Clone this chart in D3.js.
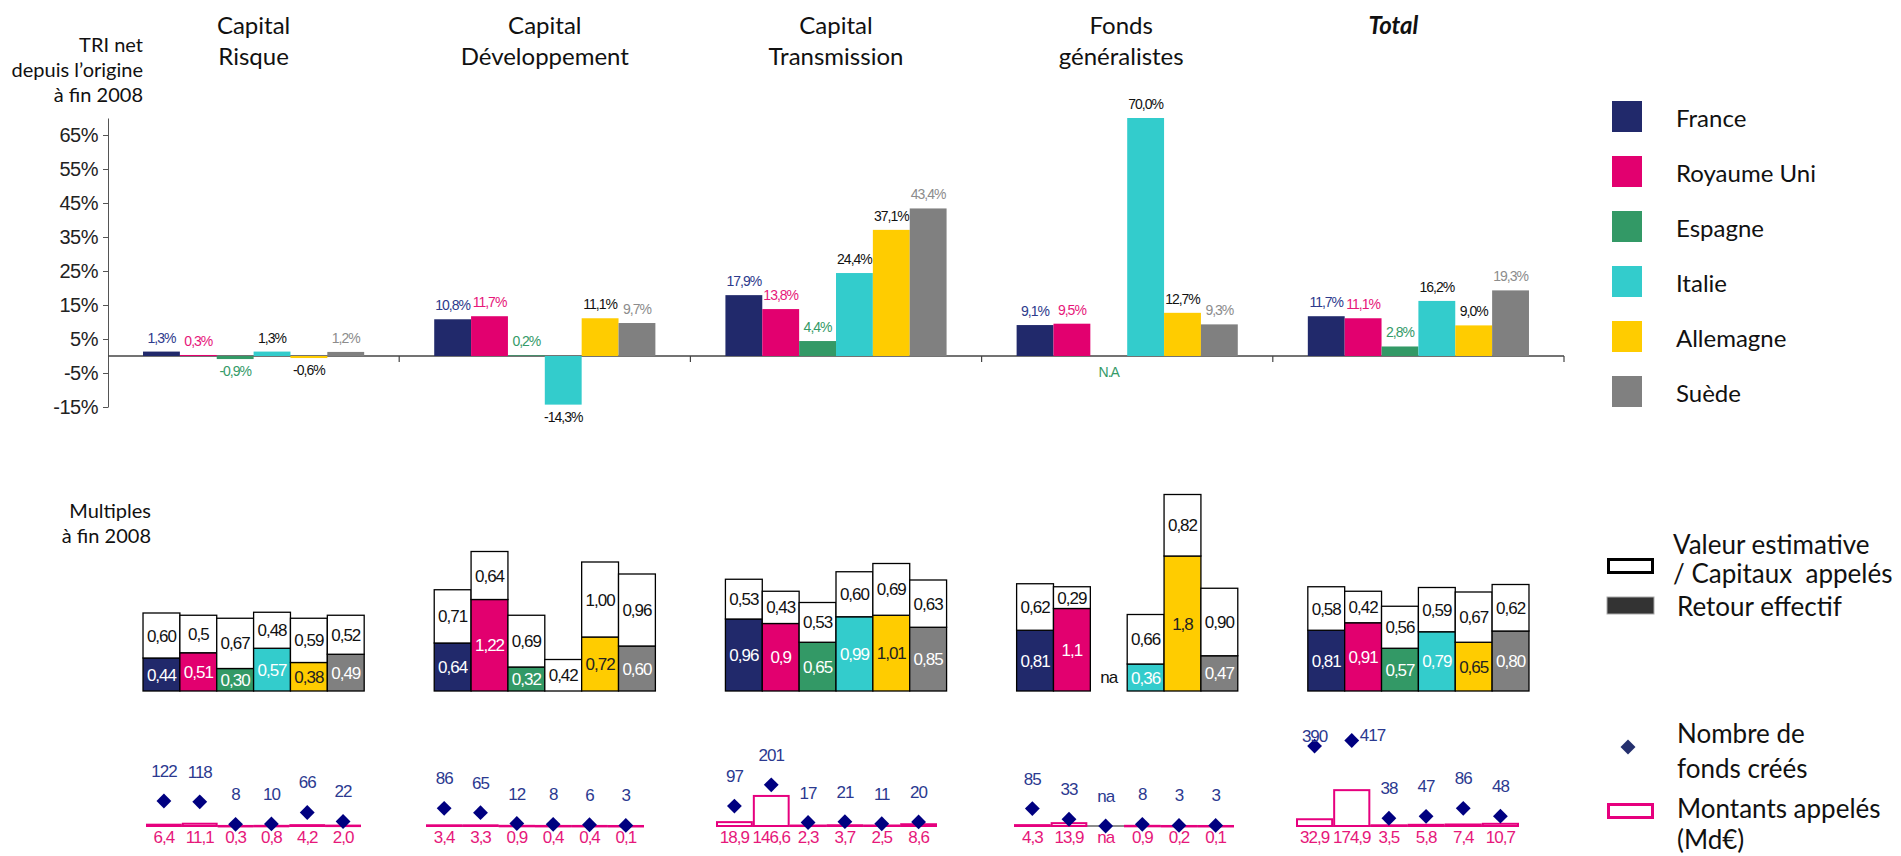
<!DOCTYPE html>
<html><head><meta charset="utf-8">
<script src="https://cdn.jsdelivr.net/npm/d3@7"></script>
<style>
body{margin:0;background:#fff;}
svg{display:block;}
.num{font-family:"Liberation Sans",Arial,sans-serif;}
.lbl{font-family:Lato,"Open Sans",sans-serif;}
</style></head><body>
<svg id="chart" width="1901" height="856"></svg>
<script>
// ---------------- DATA ----------------
const countries = ["France","Royaume Uni","Espagne","Italie","Allemagne","Suède"];
const groups = ["Capital Risque","Capital Développement","Capital Transmission","Fonds généralistes","Total"];
const groupTitles = [["Capital","Risque"],["Capital","Développement"],["Capital","Transmission"],["Fonds","généralistes"],["Total"]];
const yTicks = [-15,-5,5,15,25,35,45,55,65];

// TRI net depuis l'origine à fin 2008 (%)
const triCapitalRisque   = [1.3, 0.3, -0.9, 1.3, -0.6, 1.2];
const triCapitalDev      = [10.8, 11.7, 0.2, -14.3, 11.1, 9.7];
const triCapitalTrans    = [17.9, 13.8, 4.4, 24.4, 37.1, 43.4];
const triFondsGen        = [9.1, 9.5, null, 70.0, 12.7, 9.3];
const triTotal           = [11.7, 11.1, 2.8, 16.2, 9.0, 19.3];

// Multiples : Retour effectif
const retourCR    = ["0,44","0,51","0,30","0,57","0,38","0,49"];
const retourCD    = ["0,64","1,22","0,32",null,"0,72","0,60"];
const retourCT    = ["0,96","0,9","0,65","0,99","1,01","0,85"];
const retourFG    = ["0,81","1,1","na","0,36","1,8","0,47"];
const retourTotal = ["0,81","0,91","0,57","0,79","0,65","0,80"];

// Multiples : Valeur estimative / Capitaux appelés
const valeurCR    = ["0,60","0,5","0,67","0,48","0,59","0,52"];
const valeurCD    = ["0,71","0,64","0,69","0,42","1,00","0,96"];
const valeurCT    = ["0,53","0,43","0,53","0,60","0,69","0,63"];
const valeurFG    = ["0,62","0,29","na","0,66","0,82","0,90"];
const valeurTotal = ["0,58","0,42","0,56","0,59","0,67","0,62"];

// Nombre de fonds créés
const fondsCR    = [122,118,8,10,66,22];
const fondsCD    = [86,65,12,8,6,3];
const fondsCT    = [97,201,17,21,11,20];
const fondsFG    = [85,33,"na",8,3,3];
const fondsTotal = [390,417,38,47,86,48];

// Montants appelés (Md€)
const montantsCR    = ["6,4","11,1","0,3","0,8","4,2","2,0"];
const montantsCD    = ["3,4","3,3","0,9","0,4","0,4","0,1"];
const montantsCT    = ["18,9","146,6","2,3","3,7","2,5","8,6"];
const montantsFG    = ["4,3","13,9","na","0,9","0,2","0,1"];
const montantsTotal = ["32,9","174,9","3,5","5,8","7,4","10,7"];

const triData = [triCapitalRisque, triCapitalDev, triCapitalTrans, triFondsGen, triTotal];
const retourData = [retourCR, retourCD, retourCT, retourFG, retourTotal];
const valeurData = [valeurCR, valeurCD, valeurCT, valeurFG, valeurTotal];
const fondsData = [fondsCR, fondsCD, fondsCT, fondsFG, fondsTotal];
const montantsData = [montantsCR, montantsCD, montantsCT, montantsFG, montantsTotal];

// ---------------- STYLE / LAYOUT ----------------
const barColors  = ["#21296b","#e2006f","#339966","#33cccc","#ffcc00","#808080"];
const textColors = ["#2d3a8c","#e6177a","#349a68","#111111","#111111","#8c8c8c"];
const inBoxText  = ["#ffffff","#ffffff","#ffffff","#ffffff","#222222","#ffffff"];
const navy = "#000080", navyText = "#2b3990", pink = "#e6007e", pinkText = "#e6177a";

const parseFr = s => (s === null || s === "na") ? null : +String(s).replace(",", ".");
const fmtPct = v => d3.format(".1f")(v).replace(".", ",").replace("\u2212", "-") + "%";

const svg = d3.select("#chart");

// group layout (shared by TRI and multiples panels)
const gx = d3.scaleBand().domain(groups).range([108, 1564]).paddingInner(0).paddingOuter(0);
const inner = groups.map(g => d3.scaleBand().domain(countries)
  .range([gx(g), gx(g) + gx.bandwidth()]).paddingInner(0).paddingOuter(0.95));

// lower panel spans (slightly offset in the original layout)
const bottomRanges = [[146,361],[426,644],[716,937],[1014,1234],[1296,1519]];
const innerBottom = bottomRanges.map(r => d3.scaleBand().domain(countries).range(r));

// ---------------- TITLES ----------------
const titleShift = [0, 0, 0, -6, -25];
groups.forEach((g, i) => {
  const cx = gx(g) + gx.bandwidth() / 2 + titleShift[i];
  const t = svg.append("text").attr("class","lbl").attr("text-anchor","middle")
    .attr("font-size", 24).attr("fill","#111");
  groupTitles[i].forEach((l, k) => t.append("tspan").attr("x", cx).attr("y", 34 + k*31).text(l));
  if (i === groups.length - 1) t.attr("font-weight","bold").attr("font-style","italic");
});

const yTitle = svg.append("text").attr("class","lbl").attr("text-anchor","end").attr("font-size",20).attr("fill","#111");
["TRI net","depuis l’origine","à fin 2008"].forEach((l,k)=> yTitle.append("tspan").attr("x",143).attr("y",52+k*25).text(l));

const mTitle = svg.append("text").attr("class","lbl").attr("text-anchor","end").attr("font-size",20).attr("fill","#111");
["Multiples","à fin 2008"].forEach((l,k)=> mTitle.append("tspan").attr("x",151).attr("y",518+k*25).text(l));

// ---------------- TRI PANEL ----------------
const y = d3.scaleLinear().domain([-15, 70]).range([407, 118]);
const yAxis = svg.append("g").attr("transform","translate(108,0)")
  .call(d3.axisLeft(y).tickValues(yTicks).tickSize(5).tickSizeOuter(0).tickFormat(d => d + "%"));
yAxis.select(".domain").attr("stroke","#555");
yAxis.selectAll(".tick line").attr("stroke","#555");
yAxis.selectAll(".tick text").attr("class","num").attr("font-size",20).attr("fill","#222")
  .attr("letter-spacing","-0.5").attr("x",-10);

svg.append("line").attr("x1",108).attr("x2",gx.range()[1]).attr("y1",y(0)).attr("y2",y(0))
  .attr("stroke","#444").attr("stroke-width",1.5);
groups.forEach(g => {
  const xe = gx(g) + gx.bandwidth();
  svg.append("line").attr("x1",xe).attr("x2",xe).attr("y1",y(0)).attr("y2",y(0)+6)
    .attr("stroke","#444").attr("stroke-width",1.2);
});

triData.forEach((vals, i) => {
  const xb = inner[i];
  const gg = svg.append("g");
  vals.forEach((v, j) => {
    const x = xb(countries[j]), w = xb.bandwidth(), cx = x + w/2;
    if (v === null) {
      gg.append("text").attr("class","num").attr("x",cx).attr("y",y(0)+21).attr("text-anchor","middle")
        .attr("font-size",14).attr("letter-spacing","-1").attr("fill",textColors[j]).text("N.A");
      return;
    }
    gg.append("rect").attr("x",x).attr("width",w)
      .attr("y", y(Math.max(0,v))).attr("height", Math.abs(y(v)-y(0)))
      .attr("fill", barColors[j]);
    gg.append("text").attr("class","num").attr("x",cx)
      .attr("y", v >= 0 ? y(v) - 9 : y(v) + 17)
      .attr("text-anchor","middle").attr("font-size",14).attr("letter-spacing","-1")
      .attr("fill", textColors[j]).text(fmtPct(v));
  });
});

// ---------------- MULTIPLES PANEL ----------------
const ym = d3.scaleLinear().domain([0, 1]).range([691, 616]);
groups.forEach((g, i) => {
  const xb = inner[i];
  const gg = svg.append("g");
  countries.forEach((c, j) => {
    const x = xb(c), w = xb.bandwidth(), cx = x + w/2;
    const rs = retourData[i][j], vs = valeurData[i][j];
    if (rs === "na" || vs === "na") {
      gg.append("text").attr("class","num").attr("x",cx).attr("y",ym(0)-8).attr("text-anchor","middle")
        .attr("font-size",17).attr("letter-spacing","-1").attr("fill","#111").text("na");
      return;
    }
    const r = parseFr(rs) || 0, v = parseFr(vs);
    if (rs !== null) {
      gg.append("rect").attr("x",x).attr("width",w).attr("y",ym(r)).attr("height",ym(0)-ym(r))
        .attr("fill",barColors[j]).attr("stroke","#000").attr("stroke-width",1.3);
      gg.append("text").attr("class","num").attr("x",cx).attr("y",(ym(0)+ym(r))/2).attr("dy","0.36em")
        .attr("text-anchor","middle").attr("font-size",17).attr("letter-spacing","-1")
        .attr("fill",inBoxText[j]).text(rs);
    }
    gg.append("rect").attr("x",x).attr("width",w).attr("y",ym(r+v)).attr("height",ym(r)-ym(r+v))
      .attr("fill","#fff").attr("stroke","#000").attr("stroke-width",1.3);
    gg.append("text").attr("class","num").attr("x",cx).attr("y",(ym(r)+ym(r+v))/2).attr("dy","0.36em")
      .attr("text-anchor","middle").attr("font-size",17).attr("letter-spacing","-1")
      .attr("fill","#111").text(vs);
  });
});

// ---------------- FONDS / MONTANTS PANEL ----------------
const yb = d3.scaleLinear().domain([0, 100]).range([826, 805.5]);
const diamond = d3.symbol().type(d3.symbolSquare).size(110);
const labelCeiling = 742; // labels may not rise above this baseline (multiples panel above)
groups.forEach((g, i) => {
  const xb = innerBottom[i];
  const [a, b] = bottomRanges[i];
  const gg = svg.append("g");
  gg.append("line").attr("x1",a).attr("x2",b).attr("y1",yb(0)).attr("y2",yb(0))
    .attr("stroke","#8c8c8c").attr("stroke-width",2);
  countries.forEach((c, j) => {
    const x = xb(c), w = xb.bandwidth(), cx = x + w/2;
    const ms = montantsData[i][j], m = parseFr(ms);
    if (m !== null) {
      gg.append("rect").attr("x",x+1).attr("width",w-2).attr("y",yb(m)).attr("height",Math.max(0.5,yb(0)-yb(m)))
        .attr("fill","#fff").attr("stroke",pink).attr("stroke-width",2);
    }
    gg.append("text").attr("class","num").attr("x",cx).attr("y",yb(0)+17).attr("text-anchor","middle")
      .attr("font-size",17).attr("letter-spacing","-1").attr("fill",pinkText).text(ms);
  });
  countries.forEach((c, j) => {
    const cx = xb(c) + xb.bandwidth()/2;
    const f = fondsData[i][j];
    const fv = f === "na" ? 0 : f;
    const dy = yb(fv);
    gg.append("path").attr("d", diamond).attr("fill", navy)
      .attr("transform", `translate(${cx},${dy}) rotate(45)`);
    let ty = Math.max(dy - 24, labelCeiling), tx = cx, anchor = "middle";
    if (ty > dy - 3) { tx = cx + 8; anchor = "start"; ty = dy; }
    gg.append("text").attr("class","num").attr("x",tx).attr("y",ty).attr("text-anchor",anchor)
      .attr("font-size",17).attr("letter-spacing","-1").attr("fill",navyText).text(f);
  });
});

// ---------------- LEGENDS ----------------
const ly = d3.scaleLinear().domain([0, 5]).range([116.5, 391.5]);
countries.forEach((c, j) => {
  svg.append("rect").attr("x",1612).attr("y",ly(j)-15.5).attr("width",30).attr("height",31).attr("fill",barColors[j]);
  svg.append("text").attr("class","lbl").attr("x",1676).attr("y",ly(j)+10).attr("font-size",24).attr("fill","#111").text(c);
});

function legText(lines, x, y0, dy) {
  const t = svg.append("text").attr("class","lbl").attr("font-size",26).attr("fill","#111").style("white-space","pre");
  lines.forEach((l,k)=> t.append("tspan").attr("x",x).attr("y",y0+k*dy).text(l));
}
svg.append("rect").attr("x",1608.5).attr("y",559.5).attr("width",44).attr("height",13).attr("fill","#fff").attr("stroke","#000").attr("stroke-width",3);
legText(["Valeur estimative","/ Capitaux  appelés"], 1673, 554, 29);
svg.append("rect").attr("x",1607).attr("y",597).attr("width",47).attr("height",17).attr("fill","#333").attr("stroke","#aaa").attr("stroke-width",1);
legText(["Retour effectif"], 1677, 616, 29);
svg.append("path").attr("d", d3.symbol().type(d3.symbolSquare).size(112)).attr("fill","#25306e")
  .attr("transform","translate(1628,747) rotate(45)");
legText(["Nombre de","fonds créés"], 1677, 743, 35);
svg.append("rect").attr("x",1608.5).attr("y",804.5).attr("width",44).attr("height",13).attr("fill","#fff").attr("stroke",pink).attr("stroke-width",3);
legText(["Montants appelés","(Md€)"], 1677, 818, 31);
</script>
</body></html>
